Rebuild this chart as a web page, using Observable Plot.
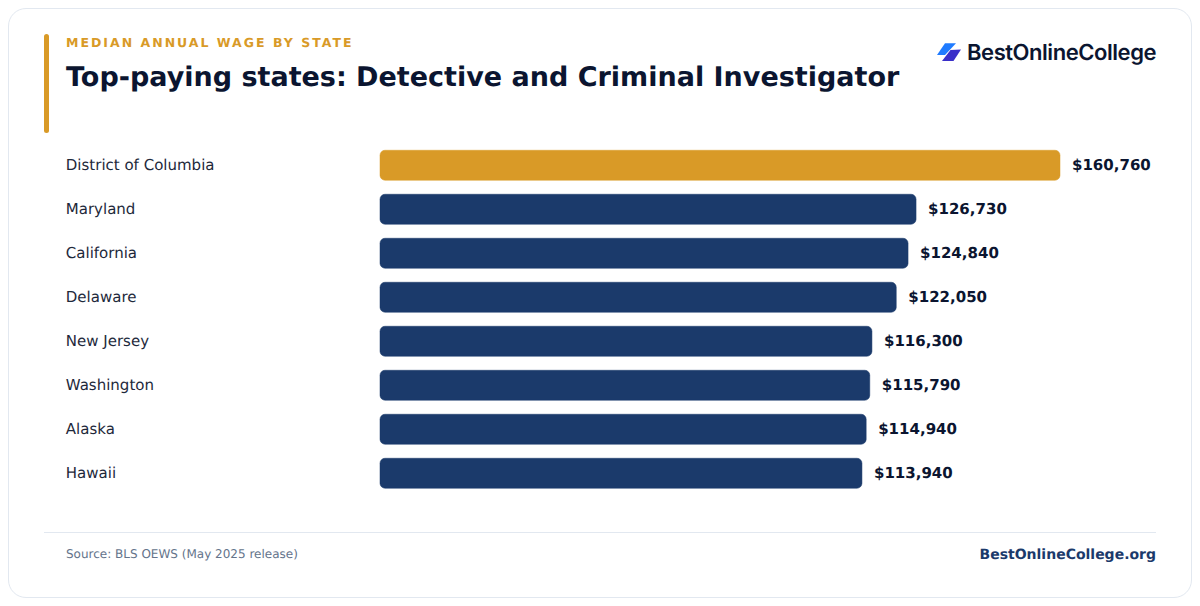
<!DOCTYPE html>
<html>
<head>
<meta charset="utf-8">
<script src="https://cdn.jsdelivr.net/npm/d3@7"></script>
<script src="https://cdn.jsdelivr.net/npm/@observablehq/plot@0.6"></script>
<style>
html,body{margin:0;padding:0;background:#fff;width:1200px;height:606px;overflow:hidden}
body{position:relative;font-family:"DejaVu Sans",sans-serif;text-rendering:geometricPrecision}
svg text{text-rendering:geometricPrecision}
.abs{position:absolute;white-space:nowrap;line-height:1}
#card{left:8px;top:8px;width:1182px;height:588px;border:1.5px solid #e2e8f0;border-radius:18px;box-sizing:content-box;background:#fff}
#accent{left:44px;top:34px;width:5px;height:99px;border-radius:3px;background:#d99a27}
#eyebrow{left:66px;top:36.5px;font-size:12.5px;font-weight:700;letter-spacing:2px;color:#d99a27}
#title{left:66px;top:64px;font-size:27px;font-weight:700;color:#0b1530}
#rule{left:44px;top:532px;width:1112px;height:1px;background:#e2e8f0}
#source{left:66px;top:548px;font-size:12px;color:#64748b}
#site{right:44px;top:548px;font-size:14px;font-weight:700;color:#1b3a6b}
#brand{right:44px;top:42px;font-family:Inter,sans-serif;font-size:22px;font-weight:600;letter-spacing:-0.45px;color:#0b1530}
#logo{left:936px;top:42px}
#chart{left:0;top:0}
svg{overflow:visible}
</style>
</head>
<body>
<div id="card" class="abs"></div>
<div id="accent" class="abs"></div>
<div id="eyebrow" class="abs">MEDIAN ANNUAL WAGE BY STATE</div>
<div id="title" class="abs">Top-paying states: Detective and Criminal Investigator</div>
<svg id="logo" class="abs" width="26" height="20" viewBox="0 0 26 20">
<polygon points="9,1.3 20,1.3 9,13 1,13" fill="#1f7bff"/>
<polygon points="14.5,8 25,7.5 17.5,19 6,19" fill="#3a2fc9"/>
</svg>
<div id="brand" class="abs">BestOnlineCollege</div>
<div id="chart" class="abs"></div>
<div id="rule" class="abs"></div>
<div id="source" class="abs">Source: BLS OEWS (May 2025 release)</div>
<div id="site" class="abs">BestOnlineCollege.org</div>
<script>
const states = ["District of Columbia","Maryland","California","Delaware","New Jersey","Washington","Alaska","Hawaii"];
const wages = [160760,126730,124840,122050,116300,115790,114940,113940];
const highlightState = "District of Columbia";
const rows = states.map((state,i)=>({state,wage:wages[i]}));
const fmt = d => "$" + d3.format(",")(d);
const colorFor = d => d.state === highlightState ? "#d99a27" : "#1b3a6b";
const chart = Plot.plot({
  width:1200,height:606,
  marginLeft:66,marginRight:0,marginTop:0,marginBottom:0,
  style:{background:"transparent",fontFamily:"'DejaVu Sans',sans-serif"},
  x:{domain:[0,160760],range:[380,1060],axis:null},
  y:{domain:states,range:[150,488],paddingInner:14/44,paddingOuter:0,label:null},
  marks:[
    Plot.barX(rows,{x:"wage",y:"state",fill:colorFor,rx:5,stroke:colorFor,strokeWidth:0.5,dy:0.25}),
    Plot.text(rows,{x:"wage",y:"state",text:d=>fmt(d.wage),textAnchor:"start",dx:11.5,fontSize:15,fontWeight:700,fill:"#0b1530"}),
    Plot.axisY({anchor:"left",tickSize:0,tickPadding:0,dx:-0.7,textAnchor:"start",fontSize:15,color:"#1e293b",label:null})
  ]
});
document.getElementById("chart").appendChild(chart);
</script>
</body>
</html>
